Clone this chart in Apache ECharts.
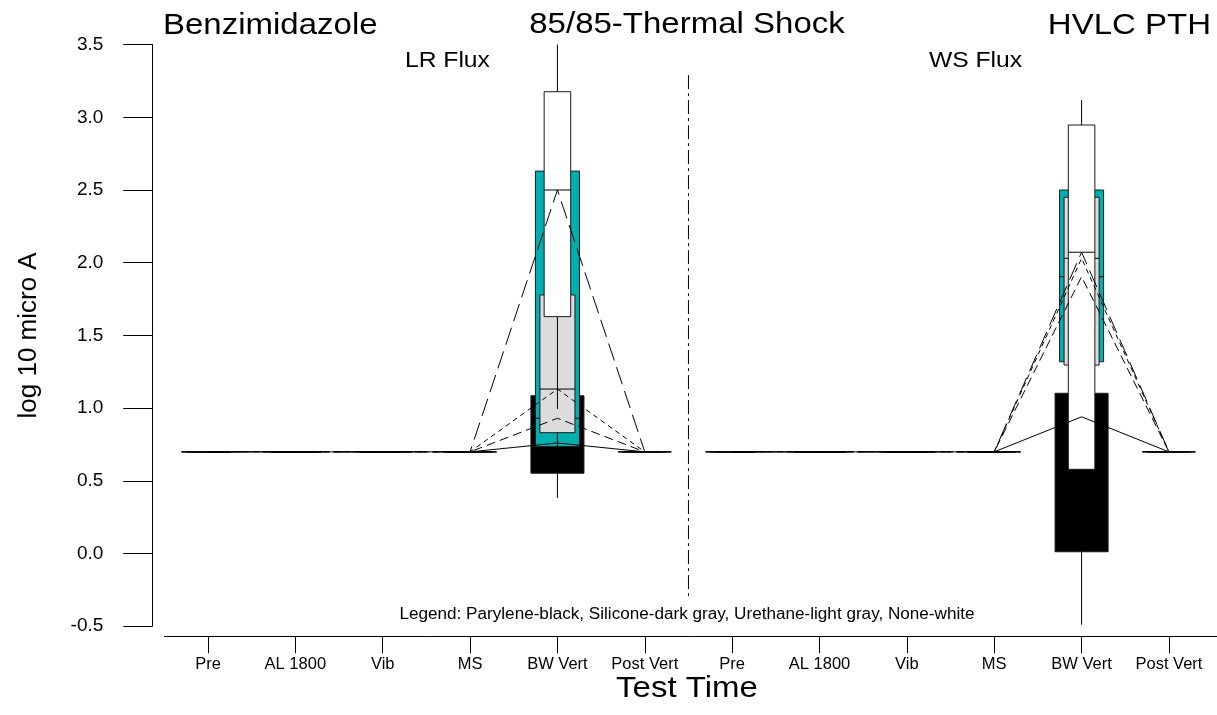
<!DOCTYPE html>
<html>
<head>
<meta charset="utf-8">
<script src="https://cdn.jsdelivr.net/npm/echarts@6/dist/echarts.min.js"></script>
<style>html,body{margin:0;padding:0;background:#fff}#c{width:1217px;height:715px}</style>
</head>
<body>
<div id="c"></div>
<script>
// ---------- data ----------
const categories = ['Pre', 'AL 1800', 'Vib', 'MS', 'BW Vert', 'Post Vert'];
const panelNames = ['LR Flux', 'WS Flux'];
const groupNames = ['Parylene', 'Silicone', 'Urethane', 'None'];
const tickPositions = [0, 1, 2, 3, 4, 5, 6, 7, 8, 9, 10, 11];
const tickLabels = ['Pre', 'AL 1800', 'Vib', 'MS', 'BW Vert', 'Post Vert',
                    'Pre', 'AL 1800', 'Vib', 'MS', 'BW Vert', 'Post Vert'];

// box stats per category: [min, q1, median, q3, max]  (log10 micro A)
const lrParylene = [
  [0.699, 0.699, 0.699, 0.699, 0.699], [0.699, 0.699, 0.699, 0.699, 0.699],
  [0.699, 0.699, 0.699, 0.699, 0.699], [0.699, 0.699, 0.699, 0.699, 0.699],
  [0.382, 0.552, 0.760, 1.085, 1.085], [0.699, 0.699, 0.699, 0.699, 0.699]];
const lrSilicone = [
  [0.699, 0.699, 0.699, 0.699, 0.699], [0.699, 0.699, 0.699, 0.699, 0.699],
  [0.699, 0.699, 0.699, 0.699, 0.699], [0.699, 0.699, 0.699, 0.699, 0.699],
  [0.735, 0.735, 0.930, 2.630, 2.630], [0.699, 0.699, 0.699, 0.699, 0.699]];
const lrUrethane = [
  [0.699, 0.699, 0.699, 0.699, 0.699], [0.699, 0.699, 0.699, 0.699, 0.699],
  [0.699, 0.699, 0.699, 0.699, 0.699], [0.699, 0.699, 0.699, 0.699, 0.699],
  [0.735, 0.831, 1.131, 1.778, 1.778], [0.699, 0.699, 0.699, 0.699, 0.699]];
const lrNone = [
  [0.699, 0.699, 0.699, 0.699, 0.699], [0.699, 0.699, 0.699, 0.699, 0.699],
  [0.699, 0.699, 0.699, 0.699, 0.699], [0.699, 0.699, 0.699, 0.699, 0.699],
  [0.994, 1.629, 2.500, 3.176, 3.500], [0.699, 0.699, 0.699, 0.699, 0.699]];

const wsParylene = [
  [0.699, 0.699, 0.699, 0.699, 0.699], [0.699, 0.699, 0.699, 0.699, 0.699],
  [0.699, 0.699, 0.699, 0.699, 0.699], [0.699, 0.699, 0.699, 0.699, 0.699],
  [-0.490, 0.012, 0.940, 1.102, 1.102], [0.699, 0.699, 0.699, 0.699, 0.699]];
const wsSilicone = [
  [0.699, 0.699, 0.699, 0.699, 0.699], [0.699, 0.699, 0.699, 0.699, 0.699],
  [0.699, 0.699, 0.699, 0.699, 0.699], [0.699, 0.699, 0.699, 0.699, 0.699],
  [1.319, 1.319, 1.904, 2.500, 2.500], [0.699, 0.699, 0.699, 0.699, 0.699]];
const wsUrethane = [
  [0.699, 0.699, 0.699, 0.699, 0.699], [0.699, 0.699, 0.699, 0.699, 0.699],
  [0.699, 0.699, 0.699, 0.699, 0.699], [0.699, 0.699, 0.699, 0.699, 0.699],
  [1.296, 1.296, 2.030, 2.450, 2.450], [0.699, 0.699, 0.699, 0.699, 0.699]];
const wsNone = [
  [0.699, 0.699, 0.699, 0.699, 0.699], [0.699, 0.699, 0.699, 0.699, 0.699],
  [0.699, 0.699, 0.699, 0.699, 0.699], [0.699, 0.699, 0.699, 0.699, 0.699],
  [0.200, 0.579, 2.072, 2.947, 3.119], [0.699, 0.699, 0.699, 0.699, 0.699]];

// ---------- styling ----------
const FONT = '"Liberation Sans", Arial, Helvetica, sans-serif';
const groupStyles = [
  { fill: '#000000', frac: 0.607, dash: 'solid' },          // Parylene - black
  { fill: '#00B0B0', frac: 0.504, dash: [9, 5] },           // Silicone
  { fill: '#DCDCDC', frac: 0.401, dash: [5, 4] },           // Urethane
  { fill: '#FFFFFF', frac: 0.304, dash: [18, 7] }           // None
];
const panelData = [
  [lrParylene, lrSilicone, lrUrethane, lrNone],
  [wsParylene, wsSilicone, wsUrethane, wsNone]
];

function makeRender(frac, fill) {
  return function (params, api) {
    const x = api.value(0);
    const pMin = api.coord([x, api.value(1)]);
    const pQ1 = api.coord([x, api.value(2)]);
    const pMed = api.coord([x, api.value(3)]);
    const pQ3 = api.coord([x, api.value(4)]);
    const pMax = api.coord([x, api.value(5)]);
    const w = api.size([frac, 0])[0];
    const cx = pMin[0];
    return {
      type: 'group',
      children: [
        { type: 'line', shape: { x1: cx, y1: pMin[1], x2: cx, y2: pMax[1] },
          style: { stroke: '#000', lineWidth: 1 } },
        { type: 'rect', shape: { x: cx - w / 2, y: pQ3[1], width: w, height: pQ1[1] - pQ3[1] },
          style: { fill: fill, stroke: '#1a1a1a', lineWidth: 1 } },
        { type: 'line', shape: { x1: cx - w / 2, y1: pMed[1], x2: cx + w / 2, y2: pMed[1] },
          style: { stroke: '#000', lineWidth: 1 } }
      ]
    };
  };
}

const series = [];
panelData.forEach(function (groups, p) {
  const base = p * categories.length;
  groups.forEach(function (stats, g) {
    const st = groupStyles[g];
    series.push({
      type: 'custom',
      name: panelNames[p] + ' ' + groupNames[g],
      renderItem: makeRender(st.frac, st.fill),
      encode: { x: 0, y: [1, 2, 3, 4, 5] },
      z: 2 + g,
      silent: true,
      data: stats.map(function (s, i) { return [base + i].concat(s); })
    });
  });
  groups.forEach(function (stats, g) {
    const st = groupStyles[g];
    series.push({
      type: 'line',
      name: panelNames[p] + ' ' + groupNames[g] + ' median',
      z: 10,
      symbol: 'none',
      silent: true,
      lineStyle: { color: '#000', width: 1, type: st.dash },
      data: stats.map(function (s, i) { return [base + i, s[2]]; })
    });
  });
});

// panel divider between the two panels
const dividerX = (categories.length - 1 + categories.length) / 2;
series.push({
  type: 'line', symbol: 'none', silent: true, z: 1,
  lineStyle: { color: '#000', width: 1, type: [14, 4, 3, 4] },
  data: [[dividerX, 3.29], [dividerX, -0.31]]
});

const chart = echarts.init(document.getElementById('c'));
chart.setOption({
  animation: false,
  backgroundColor: '#fff',
  grid: { left: 164.3, right: 0, top: 44.6, bottom: 88.8, containLabel: false, outerBoundsMode: 'none' },
  xAxis: {
    type: 'value', min: -0.5, max: 11.55, offset: 10,
    splitLine: { show: false },
    axisLine: { show: true, onZero: false, lineStyle: { color: '#000', width: 1 } },
    axisTick: { show: true, customValues: tickPositions, length: 17, lineStyle: { color: '#000' } },
    axisLabel: {
      customValues: tickPositions, margin: 20, color: '#000', fontSize: 16.5, fontFamily: FONT,
      formatter: function (v) { return tickLabels[Math.round(v)]; }
    }
  },
  yAxis: {
    type: 'value', min: -0.5, max: 3.5, interval: 0.5, offset: 12,
    splitLine: { show: false },
    axisLine: { show: true, onZero: false, lineStyle: { color: '#000', width: 1 } },
    axisTick: { show: true, length: 29, lineStyle: { color: '#000' } },
    axisLabel: {
      margin: 49, color: '#000', fontSize: 19, fontFamily: FONT,
      formatter: function (v) { return v.toFixed(1); }
    },
    name: 'log 10 micro A', nameLocation: 'middle', nameGap: 110, nameRotate: 90,
    nameTextStyle: { fontSize: 26, color: '#000', fontFamily: FONT }
  },
  graphic: [
    { type: 'text', x: 163, y: 26, scaleX: 1.1, silent: true,
      style: { text: 'Benzimidazole', font: '30px ' + FONT, fill: '#000', align: 'left', verticalAlign: 'middle' } },
    { type: 'text', x: 687, y: 25, scaleX: 1.1, silent: true,
      style: { text: '85/85-Thermal Shock', font: '30px ' + FONT, fill: '#000', align: 'center', verticalAlign: 'middle' } },
    { type: 'text', x: 1211, y: 26, scaleX: 1.1, silent: true,
      style: { text: 'HVLC PTH', font: '30px ' + FONT, fill: '#000', align: 'right', verticalAlign: 'middle' } },
    { type: 'text', x: 405, y: 61, scaleX: 1.12, silent: true,
      style: { text: panelNames[0], font: '22px ' + FONT, fill: '#000', align: 'left', verticalAlign: 'middle' } },
    { type: 'text', x: 929, y: 61, scaleX: 1.12, silent: true,
      style: { text: panelNames[1], font: '22px ' + FONT, fill: '#000', align: 'left', verticalAlign: 'middle' } },
    { type: 'text', x: 687, y: 615, scaleX: 1.07, silent: true,
      style: { text: 'Legend: Parylene-black, Silicone-dark gray, Urethane-light gray, None-white',
               font: '16px ' + FONT, fill: '#000', align: 'center', verticalAlign: 'middle' } },
    { type: 'text', x: 687, y: 689, scaleX: 1.1, silent: true,
      style: { text: 'Test Time', font: '30px ' + FONT, fill: '#000', align: 'center', verticalAlign: 'middle' } }
  ],
  series: series
});
</script>
</body>
</html>
